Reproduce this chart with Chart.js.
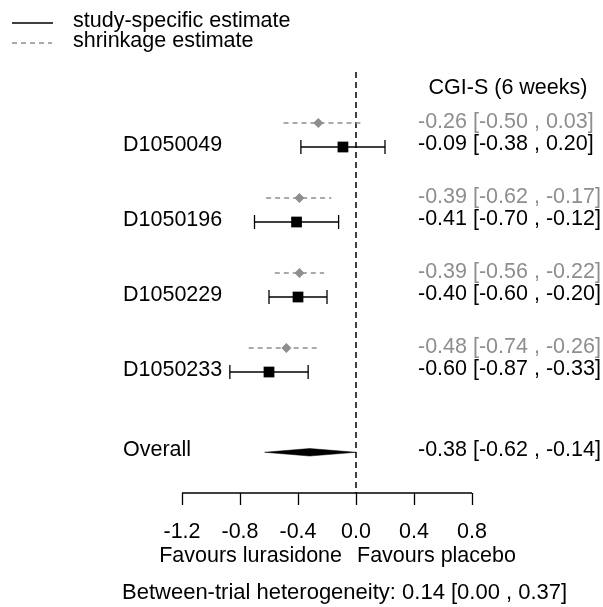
<!DOCTYPE html>
<html>
<head>
<meta charset="utf-8">
<script src="https://cdn.jsdelivr.net/npm/chart.js@4/dist/chart.umd.min.js"></script>
<style>
  html, body { margin: 0; padding: 0; background: #fff; }
  #wrap { width: 603px; height: 607px; position: relative; }
</style>
</head>
<body>
<div id="wrap"><canvas id="c" width="603" height="607"></canvas></div>
<script>
// ---------- data ----------
const categories = ['D1050049', 'D1050196', 'D1050229', 'D1050233'];
const studyEst  = [-0.09, -0.41, -0.40, -0.60];
const studyLow  = [-0.38, -0.70, -0.60, -0.87];
const studyHigh = [ 0.20, -0.12, -0.20, -0.33];
const shrinkEst  = [-0.26, -0.39, -0.39, -0.48];
const shrinkLow  = [-0.50, -0.62, -0.56, -0.74];
const shrinkHigh = [ 0.03, -0.17, -0.22, -0.26];
const overallLabel = 'Overall';
const overallText = [-0.38, -0.62, -0.14];     // est, low, high as printed
const overallMark = [-0.32, -0.63, 0.00];      // diamond as drawn: est, low, high
const xTicks = [-1.2, -0.8, -0.4, 0.0, 0.4, 0.8];
const columnTitle = 'CGI-S (6 weeks)';
const heterogeneity = [0.14, 0.00, 0.37];
const legendLabels = ['study-specific estimate', 'shrinkage estimate'];
const axisLabels = ['Favours lurasidone', 'Favours placebo'];

// ---------- layout constants ----------
const Y_MAX = 5.613;
const SHRINK_OFF = 0.32;
const OVERALL_ROW = 5.07;
const DIAMOND_H = 0.05;
const GREY = '#8e8e8e';
const FONT = '21.5px "Liberation Sans", Arial, Helvetica, sans-serif';
const FONT_BIG = '22px "Liberation Sans", Arial, Helvetica, sans-serif';

const fmt = v => v.toFixed(2);
const ci = (e, l, h) => fmt(e) + ' [' + fmt(l) + ' , ' + fmt(h) + ']';

const datasets = [];
// study squares
datasets.push({
  data: studyEst.map((v, i) => ({x: v, y: i + 1})),
  pointStyle: 'rect', pointRadius: 7.6, backgroundColor: '#000', borderColor: '#000',
  pointBorderWidth: 0, order: 0
});
// shrinkage diamonds
datasets.push({
  data: shrinkEst.map((v, i) => ({x: v, y: i + 1 - SHRINK_OFF})),
  pointStyle: 'rectRot', pointRadius: 5, backgroundColor: GREY, borderColor: GREY,
  pointBorderWidth: 0, order: 0
});
// study CIs with caps, shrinkage CIs dashed
categories.forEach((c, i) => {
  datasets.push({
    data: [{x: studyLow[i], y: i + 1}, {x: studyHigh[i], y: i + 1}],
    showLine: true, borderColor: '#000', borderWidth: 1.3,
    pointStyle: 'line', pointRotation: 90, pointRadius: 7,
    pointBorderColor: '#000', pointBorderWidth: 1.3, order: 1
  });
  datasets.push({
    data: [{x: shrinkLow[i], y: i + 1 - SHRINK_OFF}, {x: shrinkHigh[i], y: i + 1 - SHRINK_OFF}],
    showLine: true, borderColor: GREY, borderWidth: 1.4, borderDash: [5, 4],
    pointRadius: 0, order: 1
  });
});
// overall diamond
datasets.push({
  data: [
    {x: overallMark[1], y: OVERALL_ROW},
    {x: overallMark[0], y: OVERALL_ROW - DIAMOND_H},
    {x: overallMark[2], y: OVERALL_ROW},
    {x: overallMark[0], y: OVERALL_ROW + DIAMOND_H},
    {x: overallMark[1], y: OVERALL_ROW}
  ],
  showLine: true, fill: 'shape', backgroundColor: '#000', borderColor: '#000',
  borderWidth: 0.5, pointRadius: 0, tension: 0, order: 1
});
// zero reference line
datasets.push({
  data: [{x: 0, y: 0}, {x: 0, y: Y_MAX}],
  showLine: true, borderColor: '#000', borderWidth: 1.5, borderDash: [6, 4],
  pointRadius: 0, order: 3
});
datasets.forEach(d => { d.clip = false; });

const textPlugin = {
  id: 'forestText',
  afterDraw(chart) {
    const ctx = chart.ctx;
    const xs = chart.scales.x, ys = chart.scales.y;
    ctx.save();
    ctx.font = FONT;
    ctx.textBaseline = 'middle';
    ctx.fillStyle = '#000';

    // legend
    ctx.lineWidth = 1.3;
    ctx.strokeStyle = '#000';
    ctx.setLineDash([]);
    ctx.beginPath(); ctx.moveTo(12, 23); ctx.lineTo(53, 23); ctx.stroke();
    ctx.strokeStyle = GREY;
    ctx.setLineDash([5, 4]);
    ctx.beginPath(); ctx.moveTo(12, 43); ctx.lineTo(52, 43); ctx.stroke();
    ctx.setLineDash([]);
    ctx.textAlign = 'left';
    ctx.fillText(legendLabels[0], 73, 21);
    ctx.fillText(legendLabels[1], 73, 41);

    // column title
    ctx.textAlign = 'center';
    ctx.fillText(columnTitle, 508, ys.getPixelForValue(0.21));

    // rows
    categories.forEach((c, i) => {
      const yS = ys.getPixelForValue(i + 1);
      const yK = ys.getPixelForValue(i + 1 - SHRINK_OFF);
      ctx.textAlign = 'left';
      ctx.fillStyle = '#000';
      ctx.fillText(c, 123, yS - 2);
      ctx.fillText(ci(studyEst[i], studyLow[i], studyHigh[i]), 418, yS - 3);
      ctx.fillStyle = GREY;
      ctx.fillText(ci(shrinkEst[i], shrinkLow[i], shrinkHigh[i]), 418, yK - 1);
    });
    const yO = ys.getPixelForValue(OVERALL_ROW);
    ctx.fillStyle = '#000';
    ctx.fillText(overallLabel, 123, yO - 2);
    ctx.fillText(ci(overallText[0], overallText[1], overallText[2]), 418, yO - 2);

    // x axis
    const yAxis = chart.chartArea.bottom;
    ctx.strokeStyle = '#000';
    ctx.lineWidth = 1.3;
    ctx.beginPath();
    ctx.moveTo(xs.getPixelForValue(xTicks[0]), yAxis);
    ctx.lineTo(xs.getPixelForValue(xTicks[xTicks.length - 1]), yAxis);
    xTicks.forEach(t => {
      const px = Math.round(xs.getPixelForValue(t)) + 0.5;
      ctx.moveTo(px, yAxis); ctx.lineTo(px, yAxis + 12);
    });
    ctx.stroke();
    ctx.textAlign = 'center';
    xTicks.forEach(t => {
      ctx.fillText(t.toFixed(1), xs.getPixelForValue(t), yAxis + 39);
    });
    const x0 = xs.getPixelForValue(0);
    ctx.textAlign = 'right';
    ctx.fillText(axisLabels[0], x0 - 14, yAxis + 63);
    ctx.textAlign = 'left';
    ctx.fillText(axisLabels[1], x0 + 1, yAxis + 63);
    ctx.font = FONT_BIG;
    ctx.fillText('Between-trial heterogeneity: ' + ci(heterogeneity[0], heterogeneity[1], heterogeneity[2]), 122, yAxis + 100);
    ctx.restore();
  }
};

new Chart(document.getElementById('c'), {
  type: 'scatter',
  data: { datasets },
  options: {
    responsive: false,
    animation: false,
    layout: { padding: { left: 182, right: 131, top: 72, bottom: 114 } },
    scales: {
      x: { type: 'linear', display: false, min: xTicks[0], max: xTicks[xTicks.length - 1] },
      y: { type: 'linear', display: false, min: 0, max: Y_MAX, reverse: true }
    },
    plugins: { legend: { display: false }, tooltip: { enabled: false } },
    elements: { line: { tension: 0 } }
  },
  plugins: [textPlugin]
});
</script>
</body>
</html>
